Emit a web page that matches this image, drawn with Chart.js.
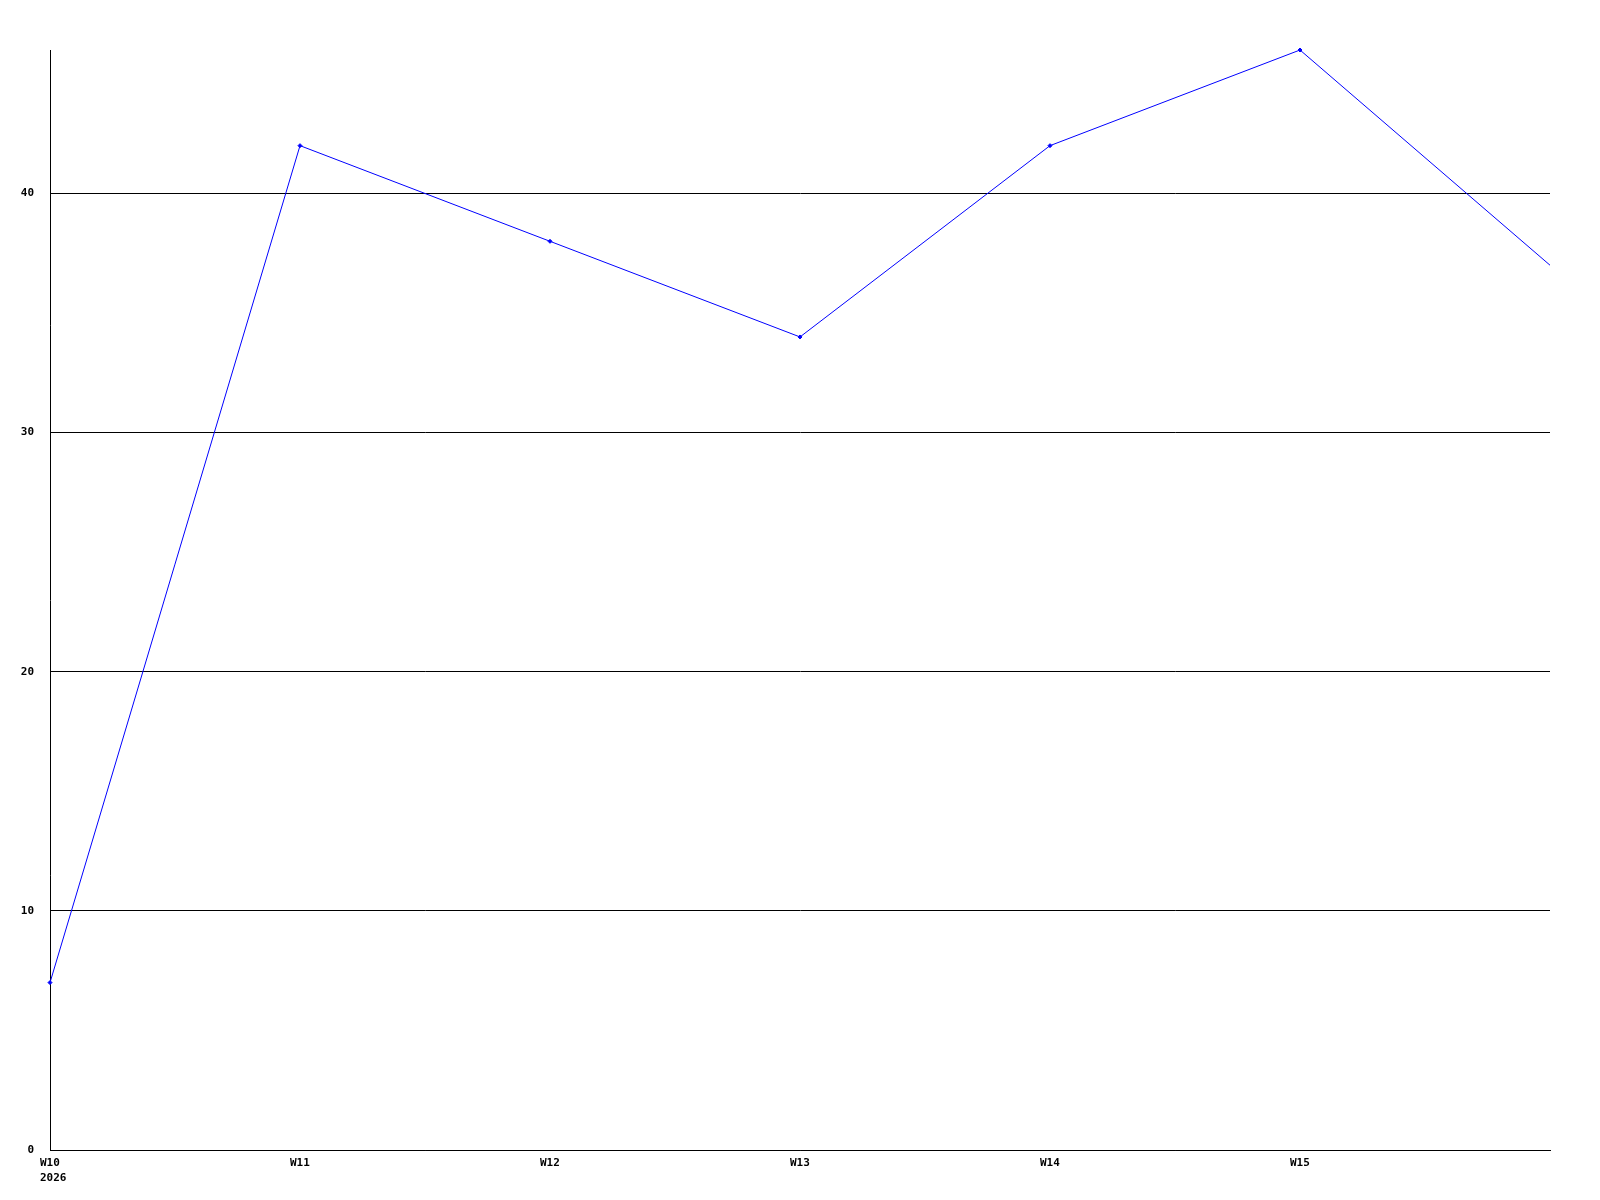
<!DOCTYPE html>
<html lang="en">
<head>
  <meta charset="UTF-8">
  <title>Weekly chart</title>
  <script src="https://cdn.jsdelivr.net/npm/chart.js@4.4.0/dist/chart.umd.min.js"></script>
  <style>
    html, body { margin: 0; padding: 0; background: #fff; }
    #wrap { width: 1600px; height: 1200px; }
  </style>
</head>
<body>
  <div id="wrap"><canvas id="chart" width="1600" height="1200"></canvas></div>
  <script>
    const weeks = ['W10', 'W11', 'W12', 'W13', 'W14', 'W15', 'W16'];
    const values = [7, 42, 38, 34, 42, 46, 37];
    const yTicks = [0, 10, 20, 30, 40];

    const tickFont = { family: 'DejaVu Sans Mono', size: 11, weight: 'bold', lineHeight: 1.35 };

    // last week runs off the right edge: no marker, no label
    const radii = weeks.map((w, i) => i === weeks.length - 1 ? 0 : 2);

    new Chart(document.getElementById('chart'), {
      type: 'line',
      data: {
        labels: weeks,
        datasets: [{
          data: values,
          borderColor: '#0000ff',
          backgroundColor: '#0000ff',
          borderWidth: 1,
          pointStyle: 'rectRot',
          pointRadius: radii,
          pointBorderWidth: 1,
          tension: 0,
          clip: false
        }]
      },
      options: {
        responsive: false,
        animation: false,
        layout: { padding: { left: 0, top: 50, right: 50, bottom: 0 } },
        plugins: { legend: { display: false }, tooltip: { enabled: false } },
        scales: {
          x: {
            offset: false,
            grid: { display: false, drawTicks: false },
            border: { color: '#000', width: 1 },
            afterFit: (s) => { s.height = 50; },
            ticks: {
              color: '#000',
              font: tickFont,
              padding: 6,
              align: 'start',
              labelOffset: -10,
              maxRotation: 0,
              autoSkip: false,
              callback: (v, i) => {
                if (i === weeks.length - 1) return '';
                return i === 0 ? [weeks[i], '2026'] : weeks[i];
              }
            }
          },
          y: {
            min: 0,
            max: 46,
            afterBuildTicks: (s) => { s.ticks = yTicks.map(v => ({ value: v })); },
            afterFit: (s) => { s.width = 50; },
            grid: { color: '#000', lineWidth: 1, drawTicks: false },
            border: { color: '#000', width: 1 },
            ticks: { color: '#000', font: tickFont, padding: 16 }
          }
        }
      }
    });
  </script>
</body>
</html>
